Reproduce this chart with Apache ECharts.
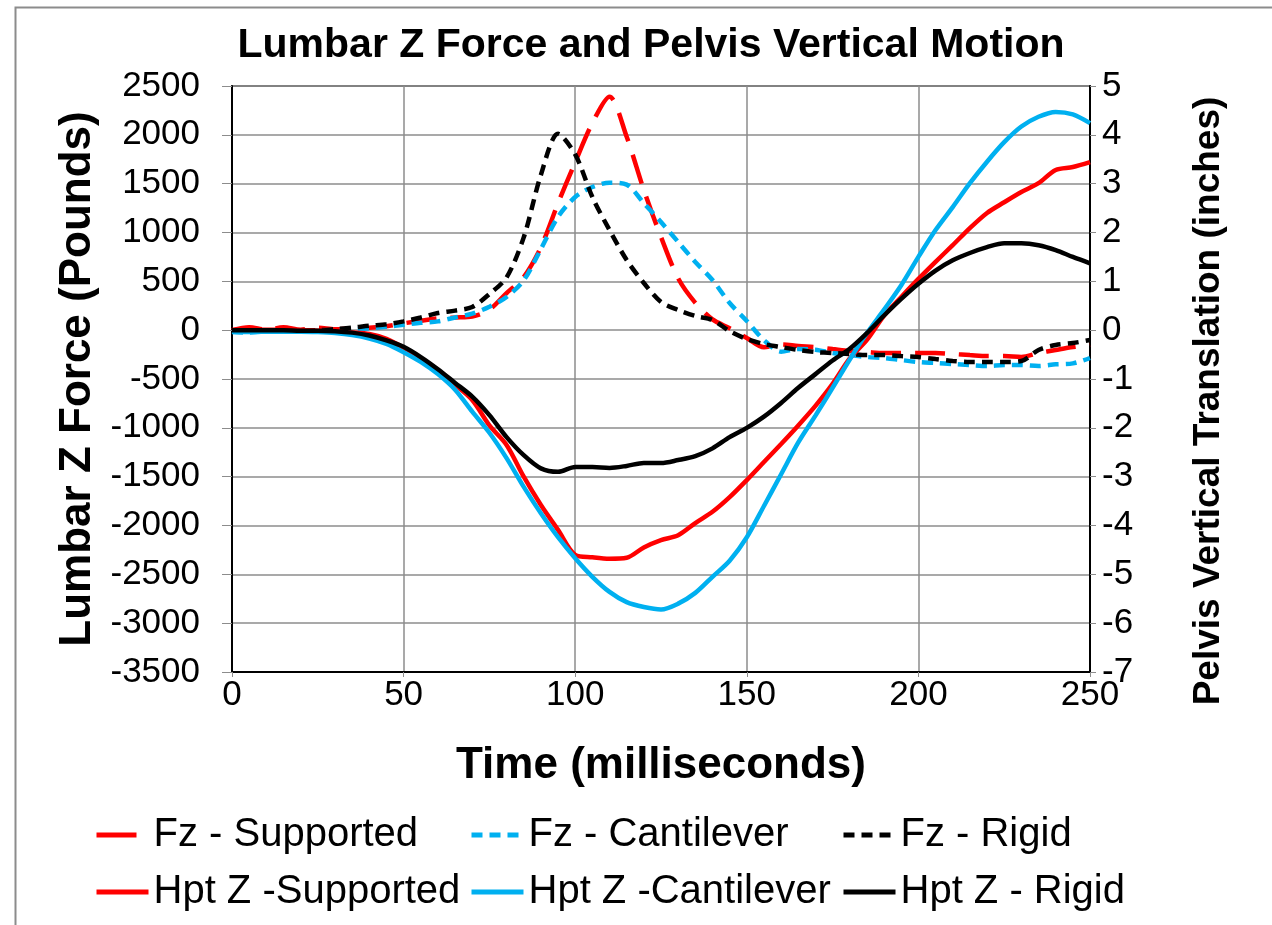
<html>
<head>
<meta charset="utf-8">
<script src="https://cdn.jsdelivr.net/npm/echarts@6/dist/echarts.min.js"></script>
<style>
  body { margin: 0; background: #fff; }
  #chart { width: 1272px; height: 925px; }
</style>
</head>
<body>
<div id="chart"></div>
<script type="text/javascript">
// time in milliseconds
var times = [0, 5, 10, 15, 20, 25, 30, 35, 40, 45, 50, 55, 60, 65, 70, 75, 80, 85, 90, 95,
  100, 105, 110, 115, 120, 125, 130, 135, 140, 145, 150, 155, 160, 165, 170, 175, 180, 185, 190, 195,
  200, 205, 210, 215, 220, 225, 230, 235, 240, 245, 250];

// lumbar Z force (pounds), left axis
var fzSupported = [0, 30, 5, 30, 5, 25, 10, 20, 25, 40, 70, 95, 120, 130, 140, 210, 380, 544, 850, 1300,
  1720, 2120, 2390, 1980, 1435, 954, 530, 280, 110, 20, -80, -175, -145, -162, -173, -193, -213, -224, -234, -234,
  -234, -234, -244, -255, -265, -265, -275, -234, -203, -173, -150];
var fzCantilever = [-20, -25, -15, -15, -10, -10, 0, 10, 20, 35, 55, 75, 90, 130, 170, 240, 340, 510, 830, 1160,
  1363, 1466, 1510, 1490, 1300, 1107, 903, 698, 513, 278, 94, -101, -220, -193, -200, -234, -255, -275, -285, -306,
  -326, -336, -347, -357, -367, -357, -357, -367, -350, -340, -285];
var fzRigid = [0, 0, 0, -5, 0, 0, 10, 25, 45, 60, 90, 130, 175, 200, 237, 370, 540, 950, 1589, 2010,
  1800, 1363, 1025, 718, 483, 288, 206, 145, 104, -10, -91, -142, -173, -203, -224, -234, -244, -255, -255, -265,
  -275, -296, -316, -326, -326, -326, -316, -203, -152, -132, -101];

// pelvis vertical translation (inches), right axis
var hptSupported = [0, 0.02, 0.01, 0.01, 0, -0.01, -0.03, -0.05, -0.08, -0.18, -0.36, -0.58, -0.86, -1.12, -1.43, -1.95, -2.35, -3.0, -3.58, -4.09,
  -4.6, -4.65, -4.68, -4.66, -4.45, -4.3, -4.2, -3.95, -3.72, -3.42, -3.07, -2.7, -2.33, -1.95, -1.55, -1.1, -0.58, -0.2, 0.3, 0.68,
  1.05, 1.4, 1.74, 2.09, 2.4, 2.62, 2.83, 3.01, 3.28, 3.34, 3.44];
var hptCantilever = [-0.03, -0.04, -0.03, -0.03, -0.03, -0.04, -0.06, -0.1, -0.17, -0.28, -0.45, -0.65, -0.9, -1.22, -1.67, -2.1, -2.62, -3.21, -3.75, -4.24,
  -4.67, -5.05, -5.36, -5.57, -5.67, -5.72, -5.6, -5.38, -5.05, -4.72, -4.24, -3.6, -2.95, -2.3, -1.75, -1.18, -0.6, -0.06, 0.42, 0.92,
  1.5, 2.05, 2.52, 3.01, 3.45, 3.85, 4.17, 4.37, 4.47, 4.42, 4.24];
var hptRigid = [0, 0, 0, 0, -0.01, -0.01, -0.02, -0.05, -0.11, -0.21, -0.34, -0.55, -0.8, -1.08, -1.36, -1.74, -2.19, -2.56, -2.83, -2.9,
  -2.8, -2.8, -2.82, -2.78, -2.72, -2.72, -2.66, -2.58, -2.42, -2.19, -2.0, -1.77, -1.49, -1.18, -0.9, -0.62, -0.38, -0.06, 0.3, 0.64,
  0.95, 1.22, 1.43, 1.58, 1.7, 1.78, 1.78, 1.74, 1.64, 1.5, 1.37];

var leftTicks = [-3500, 2500, 500];   // min, max, step
var rightTicks = [-7, 5, 1];
var timeTicks = [0, 250, 50];

function pairs(vals) {
  return times.map(function (t, i) { return [t, vals[i]]; });
}

var FONT = 'Liberation Sans, Arial, sans-serif';
var RED = '#ff0000', BLUE = '#00b0f0', BLACK = '#000000';

var seriesDefs = [
  { name: 'Fz - Supported', data: fzSupported, color: RED, type: [30, 14], legendType: [40, 20], axis: 0 },
  { name: 'Fz - Cantilever', data: fzCantilever, color: BLUE, type: [11, 7], legendType: [11, 7], axis: 0 },
  { name: 'Fz - Rigid', data: fzRigid, color: BLACK, type: [11, 7], legendType: [11, 7], axis: 0 },
  { name: 'Hpt Z -Supported', data: hptSupported, color: RED, type: 'solid', legendType: 'solid', axis: 1 },
  { name: 'Hpt Z -Cantilever', data: hptCantilever, color: BLUE, type: 'solid', legendType: 'solid', axis: 1 },
  { name: 'Hpt Z - Rigid', data: hptRigid, color: BLACK, type: 'solid', legendType: 'solid', axis: 1 }
];

var legendPos = [[94, 815], [469, 815], [841, 815], [94, 872], [469, 872], [841, 872]];

function plain(v) { return String(v); }

var chart = echarts.init(document.getElementById('chart'));
chart.setOption({
  animation: false,
  textStyle: { fontFamily: FONT },
  title: {
    text: 'Lumbar Z Force and Pelvis Vertical Motion',
    left: 646, top: 20, textAlign: 'center',
    textStyle: { fontFamily: FONT, fontSize: 41, fontWeight: 'bold', color: '#000' }
  },
  graphic: [{
    type: 'rect', left: 13, top: 5, silent: true,
    shape: { width: 1300, height: 1000 },
    style: { fill: 'none', stroke: '#8c8c8c', lineWidth: 2 }
  }],
  legend: seriesDefs.map(function (s, i) {
    return {
      data: [s.name], left: legendPos[i][0], top: legendPos[i][1], padding: 0,
      itemWidth: 52, itemHeight: 14,
      itemStyle: { opacity: 0 },
      lineStyle: { width: 5, type: s.legendType, cap: 'butt' },
      textStyle: { fontFamily: FONT, fontSize: 40, color: '#000', lineHeight: 40 }
    };
  }),
  grid: { left: 232, right: 182, top: 86, bottom: 253, show: true, borderColor: '#333', borderWidth: 1.5 },
  xAxis: {
    type: 'value', min: timeTicks[0], max: timeTicks[1], interval: timeTicks[2],
    name: 'Time (milliseconds)', nameLocation: 'middle', nameGap: 72,
    nameTextStyle: { fontFamily: FONT, fontSize: 44, fontWeight: 'bold', color: '#000' },
    axisLine: { onZero: false, lineStyle: { color: '#000', width: 2 } },
    axisTick: { show: true, length: 5, lineStyle: { color: '#8c8c8c' } },
    axisLabel: { fontFamily: FONT, fontSize: 35, color: '#000', margin: 6 },
    splitLine: { show: true, lineStyle: { color: '#8c8c8c', width: 1.5 } }
  },
  yAxis: [{
    type: 'value', min: leftTicks[0], max: leftTicks[1], interval: leftTicks[2], position: 'left',
    name: 'Lumbar Z Force (Pounds)', nameLocation: 'middle', nameRotate: 90, nameGap: 114,
    nameTextStyle: { fontFamily: FONT, fontSize: 44, fontWeight: 'bold', color: '#000' },
    axisLine: { show: true, onZero: false, lineStyle: { color: '#000', width: 2 } },
    axisTick: { show: true, length: 10, lineStyle: { color: '#8c8c8c' } },
    axisLabel: { fontFamily: FONT, fontSize: 35, color: '#000', margin: 32, formatter: plain },
    splitLine: { show: true, lineStyle: { color: '#8c8c8c', width: 1.5 } }
  }, {
    type: 'value', min: rightTicks[0], max: rightTicks[1], interval: rightTicks[2], position: 'right',
    name: 'Pelvis Vertical Translation (inches)', nameLocation: 'middle', nameRotate: 90, nameGap: 100,
    nameTextStyle: { fontFamily: FONT, fontSize: 37, fontWeight: 'bold', color: '#000', padding: [0, 44, 0, 0] },
    axisLine: { show: true, onZero: false, lineStyle: { color: '#000', width: 2 } },
    axisTick: { show: true, length: 6, lineStyle: { color: '#8c8c8c' } },
    axisLabel: { fontFamily: FONT, fontSize: 35, color: '#000', margin: 12, formatter: plain },
    splitLine: { show: false }
  }],
  series: seriesDefs.map(function (s) {
    return {
      name: s.name, type: 'line', yAxisIndex: s.axis, data: pairs(s.data),
      symbol: 'none', smooth: 0.3, color: s.color,
      lineStyle: { color: s.color, width: 4.5, type: s.type, cap: 'butt' }
    };
  })
});
</script>
</body>
</html>
